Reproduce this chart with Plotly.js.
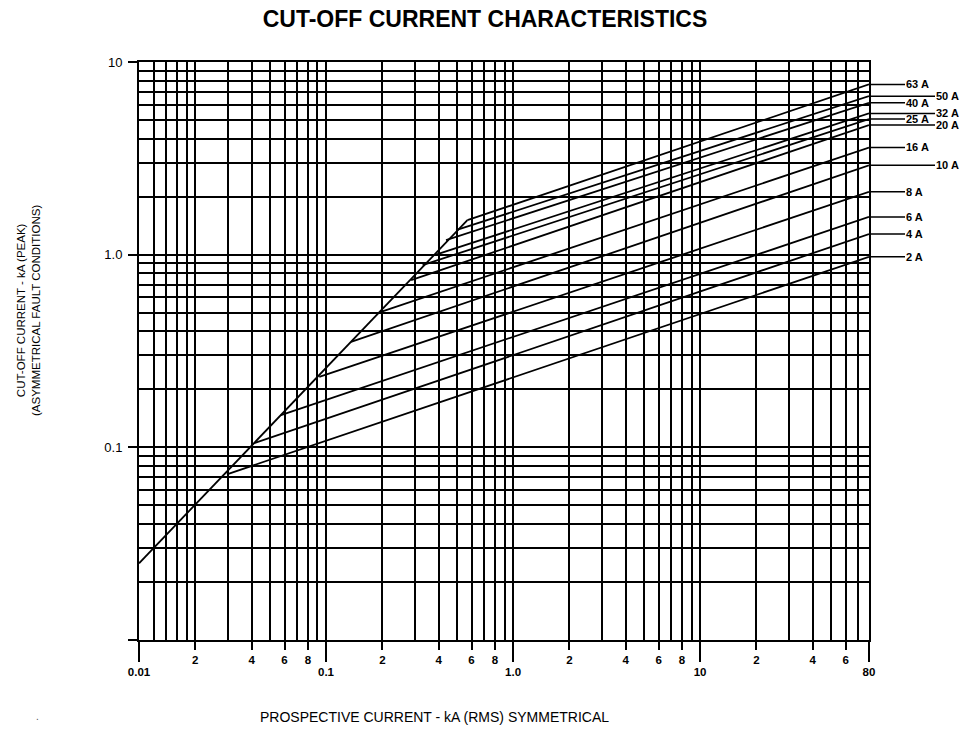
<!DOCTYPE html>
<html><head><meta charset="utf-8">
<script src="https://cdn.plot.ly/plotly-3.0.1.min.js"></script>
<style>html,body{margin:0;padding:0;background:#fff}#chart{width:970px;height:731px}</style>
</head><body><div id="chart"></div>
<script>
// ---- data ----
const ratings       = ['2 A','4 A','6 A','8 A','10 A','16 A','20 A','25 A','32 A','40 A','50 A','63 A'];
const startCurrent  = [0.0295,0.0413,0.0574,0.092,0.136,0.193,0.285,0.3285,0.38,0.438,0.496,0.57];
const startCutoff   = [0.0724,0.105,0.147,0.232,0.353,0.502,0.738,0.883,0.995,1.19,1.34,1.51];
const endCurrent    = 80;
const endCutoff     = [0.975,1.28,1.57,2.12,2.91,3.60,4.71,5.06,5.41,6.14,6.65,7.65];
const labelColumn   = ['inner','inner','inner','inner','outer','inner','outer','inner','outer','inner','outer','inner'];
const envelopeCurrent = [0.01, 0.57];
const envelopeCutoff  = [0.025, 1.51];

const xGrid = [0.01,0.012,0.014,0.016,0.018,0.02,0.03,0.04,0.05,0.06,0.07,0.08,0.09,
               0.1,0.2,0.3,0.4,0.5,0.6,0.7,0.8,0.9,
               1,2,3,4,5,6,7,8,9,
               10,20,30,40,50,60,70,80];
const yGrid = [0.01,0.02,0.03,0.04,0.05,0.06,0.07,0.08,0.09,
               0.1,0.2,0.3,0.4,0.5,0.6,0.7,0.8,0.9,
               1,2,3,4,5,6,7,8,9,10];
const xMinorTickVals = [0.02,0.04,0.06,0.08,0.2,0.4,0.6,0.8,2,4,6,8,20,40,60];
const xMinorTickText = ['2','4','6','8','2','4','6','8','2','4','6','8','2','4','6'];
const xMajorTickVals = [0.01,0.1,1,10,80];
const xMajorTickText = ['0.01','0.1','1.0','10','80'];
const yTickVals = [0.01,0.1,1,10];
const yTickText = ['','0.1','1.0','10'];

// ---- figure ----
const FONT = 'Liberation Sans, Arial, Helvetica, sans-serif';
const XR = [-2, Math.log10(80)];
const YR = [-2, 1];
const lineStyle = {color:'#000', width:1.8};

const traces = [];
traces.push({type:'scatter', mode:'lines', x:envelopeCurrent, y:envelopeCutoff,
  line:lineStyle, hoverinfo:'skip', showlegend:false});
ratings.forEach((r,i)=>{
  traces.push({type:'scatter', mode:'lines', name:r,
    x:[startCurrent[i], endCurrent], y:[startCutoff[i], endCutoff[i]],
    line:lineStyle, hoverinfo:'skip', showlegend:false});
});
// carriers for the overlaid tick axes
traces.push({type:'scatter', x:[], y:[], xaxis:'x2', yaxis:'y', showlegend:false, hoverinfo:'skip'});
traces.push({type:'scatter', x:[], y:[], xaxis:'x3', yaxis:'y', showlegend:false, hoverinfo:'skip'});
traces.push({type:'scatter', x:[], y:[], xaxis:'x', yaxis:'y2', showlegend:false, hoverinfo:'skip'});

const annotations = ratings.map((r,i)=>({
  xref:'paper', x:1, yref:'y', y:Math.log10(endCutoff[i]),
  text:'<b>'+r+'</b>', showarrow:true, arrowhead:0, arrowwidth:1.5, arrowcolor:'#000',
  ax: labelColumn[i]==='inner' ? 36 : 66, ay:0, axref:'pixel', ayref:'pixel',
  xanchor:'left', yanchor:'middle', borderpad:0, standoff:0, startstandoff:0,
  font:{family:FONT, size:11, color:'#000'}
}));
annotations.push({xref:'paper', yref:'paper', x:(28-139)/730, y:(640-310)/578,
  text:'CUT-OFF CURRENT - kA (PEAK)<br>(ASYMMETRICAL FAULT CONDITIONS)', textangle:-90,
  showarrow:false, xanchor:'center', yanchor:'middle',
  font:{family:FONT, size:11.5, color:'#000'}});
annotations.push({xref:'paper', yref:'paper', x:(434-139)/730, y:(640-717)/578,
  text:'PROSPECTIVE CURRENT - kA (RMS) SYMMETRICAL', showarrow:false,
  xanchor:'center', yanchor:'middle', font:{family:FONT, size:14, color:'#000'}});
annotations.push({xref:'paper', yref:'paper', x:(37-139)/730, y:(640-716)/578,
  text:'.', showarrow:false, xanchor:'center', yanchor:'middle',
  font:{family:FONT, size:10, color:'#555'}});

const tickFontX = {family:FONT, size:11.5, color:'#000', weight:'bold'};

const layout = {
  width:970, height:731,
  margin:{l:139, r:101, t:62, b:91},
  paper_bgcolor:'#fff', plot_bgcolor:'#fff',
  font:{family:FONT, color:'#000'},
  title:{text:'<b>CUT-OFF CURRENT CHARACTERISTICS</b>', font:{family:FONT, size:23, color:'#000'},
    x:0.5, xref:'container', xanchor:'center', y:1-19/731, yref:'container', yanchor:'middle'},
  xaxis:{type:'log', range:XR, autorange:false, tickmode:'array', tickvals:xGrid,
    showticklabels:false, ticks:'', showgrid:true, gridcolor:'#000', gridwidth:2,
    showline:true, mirror:true, linecolor:'#000', linewidth:2, zeroline:false, fixedrange:true},
  xaxis2:{type:'log', range:XR, autorange:false, overlaying:'x', anchor:'y', side:'bottom',
    tickmode:'array', tickvals:xMinorTickVals, ticktext:xMinorTickText,
    ticks:'outside', ticklen:9, tickwidth:2, tickcolor:'#000', showgrid:false, showline:false,
    zeroline:false, tickfont:tickFontX, fixedrange:true},
  xaxis3:{type:'log', range:XR, autorange:false, overlaying:'x', anchor:'y', side:'bottom',
    tickmode:'array', tickvals:xMajorTickVals, ticktext:xMajorTickText,
    ticks:'outside', ticklen:21, tickwidth:2, tickcolor:'#000', showgrid:false, showline:false,
    zeroline:false, tickfont:tickFontX, fixedrange:true},
  yaxis:{type:'log', range:YR, autorange:false, tickmode:'array', tickvals:yGrid,
    showticklabels:false, ticks:'', showgrid:true, gridcolor:'#000', gridwidth:2,
    showline:true, mirror:true, linecolor:'#000', linewidth:2, zeroline:false, fixedrange:true},
  yaxis2:{type:'log', range:YR, autorange:false, overlaying:'y', anchor:'x', side:'left',
    tickmode:'array', tickvals:yTickVals, ticktext:yTickText,
    ticks:'outside', ticklen:10, tickwidth:2, tickcolor:'#000', showgrid:false, showline:false,
    zeroline:false, ticklabelstandoff:3, tickfont:{family:FONT, size:13, color:'#000'}, fixedrange:true},
  annotations:annotations,
  showlegend:false
};

Plotly.newPlot('chart', traces, layout, {staticPlot:true, displayModeBar:false});
</script>
</body></html>
